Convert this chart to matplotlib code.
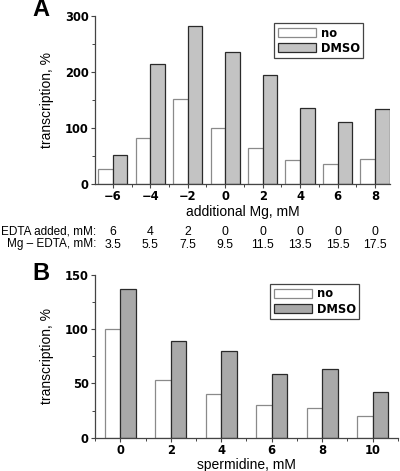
import matplotlib
matplotlib.use("Agg")
import matplotlib.pyplot as plt
import numpy as np
from matplotlib.ticker import MultipleLocator
import matplotlib.transforms as mtransforms

# Panel A data
mg_added = [-6, -4, -2, 0, 2, 4, 6, 8]
a_no = [26, 83, 152, 100, 64, 42, 35, 44]
a_dmso = [52, 215, 282, 235, 195, 135, 110, 134]
edta_added = ["6", "4", "2", "0", "0", "0", "0", "0"]
mg_minus_edta = ["3.5", "5.5", "7.5", "9.5", "11.5", "13.5", "15.5", "17.5"]

# Panel B data
spermidine = [0, 2, 4, 6, 8, 10]
b_no = [100, 53, 40, 30, 27, 20]
b_dmso = [137, 89, 80, 59, 63, 42]

plt.rcParams['font.family'] = ['Liberation Sans', 'DejaVu Sans']

fig = plt.figure(figsize=(4.0, 4.71), dpi=100)
W, H = 400, 471

def ax_rect(x0, x1, ytop, ybot):
    return [x0 / W, 1 - ybot / H, (x1 - x0) / W, (ybot - ytop) / H]

axA = fig.add_axes(ax_rect(95, 390, 16, 184))
axB = fig.add_axes(ax_rect(95, 398, 275, 437.7))

tick_font = dict(family='DejaVu Sans', weight='bold', size=8.3)
edge_no = '#8a8a8a'
edge_dm = '#2a2a2a'

def style(ax):
    for s in ['top', 'right']:
        ax.spines[s].set_visible(False)
    for s in ['left', 'bottom']:
        ax.spines[s].set_color('#444444')
        ax.spines[s].set_linewidth(0.9)
    ax.tick_params(which='major', direction='out', length=3, width=0.8, color='#444444', pad=1.5)
    ax.tick_params(which='minor', direction='out', length=2, width=0.7, color='#444444')
    for lab in ax.get_xticklabels() + ax.get_yticklabels():
        lab.set_fontfamily(tick_font['family'])
        lab.set_fontweight(tick_font['weight'])
        lab.set_fontsize(tick_font['size'])

leg_kw = dict(loc='upper left', borderaxespad=0, fancybox=False, edgecolor='#444444',
              prop=dict(family='DejaVu Sans', weight='bold', size=8.3),
              handlelength=3.3, handleheight=0.8, handletextpad=0.45, borderpad=0.3,
              labelspacing=0.2, framealpha=1)

# Panel A
xa = np.array(mg_added, dtype=float)
wA = 0.78
axA.bar(xa - wA / 2, a_no, width=wA, color='white', edgecolor=edge_no, linewidth=0.9, label='no')
axA.bar(xa + wA / 2, a_dmso, width=wA, color='#c3c3c3', edgecolor=edge_dm, linewidth=0.9, label='DMSO')
axA.set_xlim(-6.95, 8.8)
axA.set_ylim(0, 300)
axA.set_xticks(mg_added)
axA.set_xticklabels([str(v).replace('-', '\u2212') for v in mg_added])
axA.xaxis.set_minor_locator(MultipleLocator(1))
axA.set_yticks([0, 100, 200, 300])
axA.yaxis.set_minor_locator(MultipleLocator(50))
style(axA)
axA.set_xlabel('additional Mg, mM', fontsize=10, labelpad=1.5)
axA.set_ylabel('transcription, %', fontsize=10, labelpad=8)
legA = axA.legend(bbox_to_anchor=(0.607, 0.958), **leg_kw)
legA.get_frame().set_linewidth(0.9)

# Table below panel A
trans = mtransforms.blended_transform_factory(axA.transData, fig.transFigure)
y1 = 1 - 232 / H
y2 = 1 - 244.5 / H
fig.text(96 / W, y1, 'EDTA added, mM:', ha='right', va='center', fontsize=8.5)
fig.text(96 / W, y2, 'Mg \u2013 EDTA, mM:', ha='right', va='center', fontsize=8.5)
for xv, t1, t2 in zip(mg_added, edta_added, mg_minus_edta):
    fig.text(xv, y1, t1, transform=trans, ha='center', va='center', fontsize=8.8)
    fig.text(xv, y2, t2, transform=trans, ha='center', va='center', fontsize=8.8)

# Panel B
xb = np.array(spermidine, dtype=float)
wB = 0.62
axB.bar(xb - wB / 2, b_no, width=wB, color='white', edgecolor=edge_no, linewidth=0.9, label='no')
axB.bar(xb + wB / 2, b_dmso, width=wB, color='#a9a9a9', edgecolor=edge_dm, linewidth=0.9, label='DMSO')
axB.set_xlim(-1, 11)
axB.set_ylim(0, 150)
axB.set_xticks(spermidine)
axB.xaxis.set_minor_locator(MultipleLocator(1))
axB.set_yticks([0, 50, 100, 150])
axB.yaxis.set_minor_locator(MultipleLocator(25))
style(axB)
axB.set_xlabel('spermidine, mM', fontsize=10, labelpad=0.5)
axB.set_ylabel('transcription, %', fontsize=10, labelpad=8)
legB = axB.legend(bbox_to_anchor=(0.578, 0.945), **leg_kw)
legB.get_frame().set_linewidth(0.9)

# Panel letters
fig.text(32 / W, 1 - 10 / H, 'A', fontsize=17, fontweight='bold', ha='left', va='center')
fig.text(32 / W, 1 - 273 / H, 'B', fontsize=17, fontweight='bold', ha='left', va='center')

fig.savefig('out.png', dpi=100)
